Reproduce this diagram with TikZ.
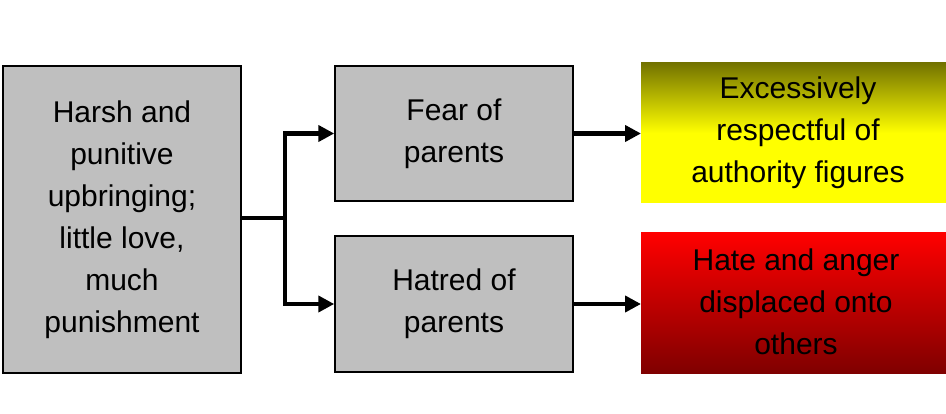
\documentclass[tikz,border=0pt]{standalone}
\usepackage{fontspec}
\setmainfont{Liberation Sans}
\usetikzlibrary{arrows.meta}
\begin{document}
\begin{tikzpicture}[x=1pt,y=-1pt,
  box/.style={draw=black,line width=1.5pt,fill=gray!50!white,align=center,font=\fontsize{30}{42}\selectfont},
  conn/.style={line width=4.5pt,-{Triangle[length=16pt,width=16pt]}},
  lbl/.style={align=center,font=\fontsize{30}{42}\selectfont}]
\useasboundingbox (0,0) rectangle (946,414);
\node[box,minimum width=238pt,minimum height=307pt] (src) at (122,219.5) {Harsh and\\punitive\\upbringing;\\little love,\\much\\punishment};
\node[box,minimum width=238pt,minimum height=135pt] (fear) at (454,133.5) {Fear of\\parents};
\node[box,minimum width=238pt,minimum height=136pt] (hate) at (454,304) {Hatred of\\parents};
\shade[top color=olive!90!black,bottom color=yellow,middle color=yellow] (641,63) rectangle (946,203);
\node[lbl] (resp) at (798,133) {Excessively\\respectful of\\authority figures};
\shade[top color=red,middle color=red,bottom color=red!50!black] (641,233) rectangle (946,373);
\node[lbl] (disp) at (796,302) {Hate and anger\\displaced onto\\others};
\coordinate (j) at (285,218);
\draw[line width=4.5pt] (src.east |- j) -- (j);
\draw[conn] (j) ++(0,2) |- (fear.west);
\draw[conn] (j) ++(0,-2) |- (hate.west);
\draw[line width=4.5pt] (285,133) -- (285,305);
\draw[conn] (fear.east) -- (641,133.5);
\draw[conn] (hate.east) -- (641,304);
\end{tikzpicture}
\end{document}
